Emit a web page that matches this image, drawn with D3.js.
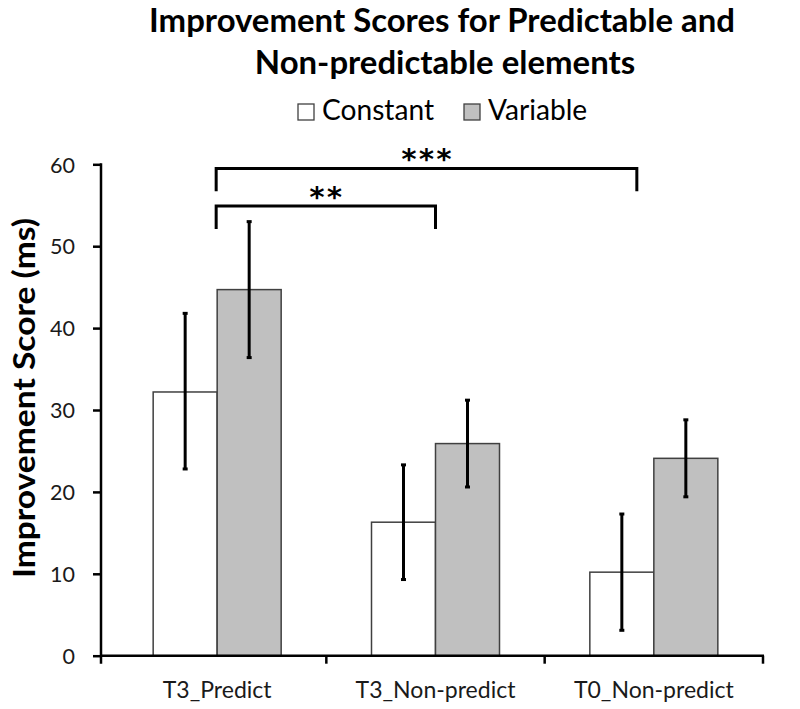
<!DOCTYPE html>
<html><head><meta charset="utf-8">
<script src="https://cdn.jsdelivr.net/npm/d3@7"></script>
<style>body{margin:0;background:#fff} svg{display:block}</style>
</head><body><svg id="c" width="800" height="709"></svg>
<script>
const categories = ["T3_Predict", "T3_Non-predict", "T0_Non-predict"];
const seriesNames = ["Constant", "Variable"];
const constantValues = [32.2, 16.3, 10.2];
const constantLow = [22.8, 9.3, 3.1];
const constantHigh = [41.8, 23.3, 17.3];
const variableValues = [44.7, 25.9, 24.1];
const variableLow = [36.4, 20.6, 19.4];
const variableHigh = [53.0, 31.2, 28.8];
const yTicks = [0, 10, 20, 30, 40, 50, 60];
const titleLines = ["Improvement Scores for Predictable and", "Non-predictable elements"];
const yTitle = "Improvement Score (ms)";
const sigLabels = ["**", "***"];
const sigFrom = ["T3_Predict", "T3_Predict"];
const sigTo = ["T3_Non-predict", "T0_Non-predict"];
const sigLevel = [54.9, 59.5];

const FONT = "Lato, 'Open Sans', sans-serif";
const svg = d3.select("#c");
const y = d3.scaleLinear().domain([0, 60]).range([655.7, 164.3]);
const x0 = d3.scaleBand().domain(categories).range([108, 763]).padding(0);
const bw = x0.bandwidth();
const barW = 64;
const x1 = d3.scaleBand().domain(seriesNames).range([bw / 2 - barW, bw / 2 + barW]).padding(0);
const fills = {Constant: "#ffffff", Variable: "#c0c0c0"};

function fit(sel, target) {
  const w = sel.node().getComputedTextLength();
  const fs = parseFloat(sel.attr("font-size"));
  const nfs = fs * target / w;
  sel.attr("font-size", nfs);
  return nfs;
}

// Title
const t1 = svg.append("text").attr("x", 442).attr("y", 32).attr("text-anchor", "middle")
  .attr("font-family", FONT).attr("font-weight", "bold").attr("font-size", 28).attr("fill", "#000")
  .text(titleLines[0]);
const tfs = fit(t1, 586);
svg.append("text").attr("x", 445).attr("y", 74).attr("text-anchor", "middle")
  .attr("font-family", FONT).attr("font-weight", "bold").attr("font-size", tfs).attr("fill", "#000")
  .text(titleLines[1]);

// Legend
const legX = [298, 464];
const legTextW = [112, 106];
let lfs = 20;
seriesNames.forEach((s, i) => {
  svg.append("rect").attr("x", legX[i]).attr("y", 104).attr("width", 16).attr("height", 16)
    .attr("fill", fills[s]).attr("stroke", "#404040").attr("stroke-width", 1.3);
  const t = svg.append("text").attr("x", legX[i] + 24).attr("y", 120)
    .attr("font-family", FONT).attr("font-size", 20).attr("fill", "#000").text(s);
  if (i === 0) lfs = fit(t, legTextW[0]); else t.attr("font-size", lfs);
});

// Bars
const data = categories.map((c, i) => ({
  cat: c,
  vals: [
    {s: "Constant", v: constantValues[i], lo: constantLow[i], hi: constantHigh[i]},
    {s: "Variable", v: variableValues[i], lo: variableLow[i], hi: variableHigh[i]}
  ]
}));
const g = svg.append("g").selectAll("g").data(data).join("g")
  .attr("transform", d => `translate(${x0(d.cat)},0)`);
g.selectAll("rect").data(d => d.vals).join("rect")
  .attr("x", d => x1(d.s)).attr("width", x1.bandwidth())
  .attr("y", d => y(d.v)).attr("height", d => y(0) - y(d.v))
  .attr("fill", d => fills[d.s]).attr("stroke", "#404040").attr("stroke-width", 1.5);
// error bars
g.selectAll("line.err").data(d => d.vals).join("line").attr("class", "err")
  .attr("x1", d => x1(d.s) + x1.bandwidth() / 2).attr("x2", d => x1(d.s) + x1.bandwidth() / 2)
  .attr("y1", d => y(d.lo)).attr("y2", d => y(d.hi))
  .attr("stroke", "#000").attr("stroke-width", 3);
["lo", "hi"].forEach(k => {
  g.selectAll("line.cap" + k).data(d => d.vals).join("line").attr("class", "cap" + k)
    .attr("x1", d => x1(d.s) + x1.bandwidth() / 2 - 2.5).attr("x2", d => x1(d.s) + x1.bandwidth() / 2 + 2.5)
    .attr("y1", d => y(d[k])).attr("y2", d => y(d[k]))
    .attr("stroke", "#000").attr("stroke-width", 3);
});

// Y axis
const yAxis = svg.append("g").attr("transform", "translate(101,0)")
  .call(d3.axisLeft(y).tickValues(yTicks).tickSize(8).tickSizeOuter(0).tickPadding(18));
yAxis.select(".domain").remove();
yAxis.selectAll(".tick line").attr("stroke", "#000").attr("stroke-width", 2.5);
const ytexts = yAxis.selectAll(".tick text").attr("font-family", FONT).attr("font-size", 21)
  .attr("fill", "#1a1a1a").attr("dy", "0.36em");
const ytfs = fit(yAxis.select(".tick:last-of-type text"), 25);
ytexts.attr("font-size", ytfs);
svg.append("line").attr("x1", 101).attr("x2", 101).attr("y1", y(60) - 1).attr("y2", y(0) + 8)
  .attr("stroke", "#000").attr("stroke-width", 2.5);

// X axis
const xAxis = svg.append("g").attr("transform", `translate(0,${y(0)})`)
  .call(d3.axisBottom(x0).tickSize(0).tickSizeOuter(0));
xAxis.select(".domain").remove();
svg.append("line").attr("x1", 100).attr("x2", 764).attr("y1", y(0)).attr("y2", y(0))
  .attr("stroke", "#000").attr("stroke-width", 2.5);
categories.forEach(c => {
  svg.append("line").attr("x1", x0(c) + x0.step()).attr("x2", x0(c) + x0.step())
    .attr("y1", y(0)).attr("y2", y(0) + 8).attr("stroke", "#000").attr("stroke-width", 2.5);
});
const xtexts = xAxis.selectAll(".tick text").attr("font-family", FONT).attr("font-size", 20)
  .attr("fill", "#1a1a1a").attr("y", 698 - y(0)).attr("dy", 0);
const xfs = fit(d3.select(xtexts.nodes()[1]), 160);
xtexts.attr("font-size", xfs);

// Y title
svg.append("text").attr("transform", "translate(35,398) rotate(-90)").attr("text-anchor", "middle")
  .attr("font-family", FONT).attr("font-weight", "bold").attr("font-size", 31).attr("fill", "#000")
  .attr("textLength", 360).attr("lengthAdjust", "spacingAndGlyphs").text(yTitle);

// Significance brackets
const rightOffset = [0, -17];
sigLabels.forEach((lab, i) => {
  const xa = x0(sigFrom[i]) + bw / 2 - 1;
  const xb = x0(sigTo[i]) + bw / 2 + rightOffset[i];
  const yl = y(sigLevel[i]);
  const yd = y(sigLevel[i] - 2.8);
  svg.append("path").attr("d", `M${xa},${yd}V${yl}H${xb}V${yd}`)
    .attr("fill", "none").attr("stroke", "#000").attr("stroke-width", 3);
  svg.append("text").attr("x", (xa + xb) / 2).attr("y", yl + 1).attr("text-anchor", "middle")
    .attr("font-family", "'DejaVu Sans Mono', monospace").attr("font-weight", "bold")
    .attr("font-size", 29).attr("fill", "#000").text(lab);
});
</script></body></html>
